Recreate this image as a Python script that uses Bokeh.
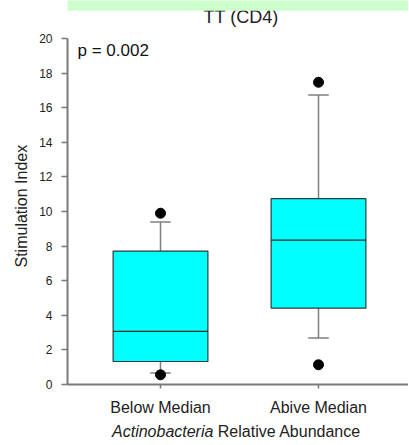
from bokeh.plotting import figure
from bokeh.layouts import column
from bokeh.models import Range1d, FixedTicker, Label, BoxAnnotation, ColumnDataSource, Title
from bokeh.core.properties import value
from bokeh.embed import file_html
from bokeh.resources import INLINE

# ---- data ----
categories = ["Below Median", "Abive Median"]
positions = [1, 2]
q1 = [1.33, 4.42]
median = [3.07, 8.35]
q3 = [7.71, 10.74]
lower_whisker = [0.66, 2.69]
upper_whisker = [9.39, 16.74]
outlier_group = [1, 1, 2, 2]
outlier_values = [9.9, 0.56, 17.47, 1.14]
y_ticks = [0, 2, 4, 6, 8, 10, 12, 14, 16, 18, 20]
y_axis_span = (0, 20)
title_text = "TT (CD4)"
p_text = "p = 0.002"
y_label = "Stimulation Index"
x_label_italic = "Actinobacteria"
x_label_rest = "Relative Abundance"

FONT = "Liberation Sans"
TXT = "#222222"
BOX_W = 0.6
CAP_W = 0.13
W = 408

# ---- main chart (frame reaches the top of the page so the title lives inside it) ----
p = figure(width=W, height=420, output_backend="svg", toolbar_location=None, title=None,
           x_range=Range1d(0.4114, 2.5696), y_range=Range1d(0, 22.197),
           min_border=0, min_border_left=67, min_border_right=0,
           min_border_top=0, min_border_bottom=36)
p.outline_line_color = None
p.grid.visible = False

p.yaxis.ticker = FixedTicker(ticks=y_ticks)
p.yaxis.bounds = y_axis_span
p.yaxis.minor_tick_line_color = None
p.xaxis.ticker = FixedTicker(ticks=positions)
p.xaxis.major_label_overrides = {pos: c for pos, c in zip(positions, categories)}
p.xaxis.minor_tick_line_color = None
for ax in (p.xaxis, p.yaxis):
    ax.axis_line_color = "#7a7a7a"
    ax.axis_line_width = 2
    ax.major_tick_line_color = "#7a7a7a"
    ax.major_tick_line_width = 1.5
    ax.major_tick_in = 0
    ax.major_label_text_font = FONT
    ax.major_label_text_color = TXT
p.yaxis.major_tick_out = 6
p.yaxis.major_label_text_font_size = "12px"
p.yaxis.major_label_standoff = 9
p.xaxis.major_tick_out = 4
p.xaxis.major_label_text_font_size = "16px"
p.xaxis.major_label_standoff = 10

# y-axis title, placed along the 0-20 part of the axis
p.add_layout(Title(text=y_label, align="left", offset=117, standoff=14,
                   text_font=FONT, text_font_size="16px", text_font_style="normal",
                   text_color=TXT), "left")

src = ColumnDataSource(dict(x=positions, q1=q1, med=median, q3=q3,
                            lo=lower_whisker, hi=upper_whisker,
                            xl=[x - BOX_W / 2 for x in positions],
                            xr=[x + BOX_W / 2 for x in positions],
                            cl=[x - CAP_W / 2 for x in positions],
                            cr=[x + CAP_W / 2 for x in positions]))
wk = dict(source=src, line_color="#7f7f7f", line_width=1.5)
p.segment(x0="x", y0="q3", x1="x", y1="hi", **wk)
p.segment(x0="x", y0="q1", x1="x", y1="lo", **wk)
p.segment(x0="cl", y0="hi", x1="cr", y1="hi", **wk)
p.segment(x0="cl", y0="lo", x1="cr", y1="lo", **wk)
p.vbar(x="x", width=BOX_W, bottom="q1", top="q3", source=src,
       fill_color="#00ffff", line_color="#2a3a3a", line_width=1.2)
p.segment(x0="xl", y0="med", x1="xr", y1="med", source=src, line_color="#1f2f2f", line_width=1.2)
p.scatter(x=outlier_group, y=outlier_values, size=10, color="black")

p.add_layout(Label(x=0.4747, y=19.33, text=p_text, text_font=FONT, text_font_size="17px",
                   text_color="#111111", text_baseline="alphabetic"))
p.add_layout(Label(x=1.5095, y=21.25, text=title_text, text_font=FONT, text_font_size="18px",
                   text_color=TXT, text_align="center", text_baseline="alphabetic"))
# light green band of the screenshot, partly covering the title
p.add_layout(BoxAnnotation(left=0.139, right=3.0, bottom=21.60, top=23.0,
                           fill_color="#ccffcc", fill_alpha=1.0, line_color=None))

# ---- footer: x-axis title with italic taxon name ----
foot = figure(width=W, height=24, output_backend="svg", toolbar_location=None, title=None,
              x_range=p.x_range, y_range=Range1d(0, 24),
              x_axis_type=None, y_axis_type=None,
              min_border_left=67, min_border_right=0, min_border_top=0, min_border_bottom=0)
foot.outline_line_color = None
foot.grid.visible = False
foot.text(x=[1.3348], y=[13], text=[x_label_italic], text_font=value(FONT), text_font_size="16px",
          text_font_style="italic", text_color=TXT, text_align="right", text_baseline="alphabetic")
foot.text(x=[1.3627], y=[13], text=[x_label_rest], text_font=value(FONT), text_font_size="16px",
          text_color=TXT, text_align="left", text_baseline="alphabetic")

layout = column(p, foot, spacing=0)
open("out.html", "w").write(file_html(layout, INLINE))
